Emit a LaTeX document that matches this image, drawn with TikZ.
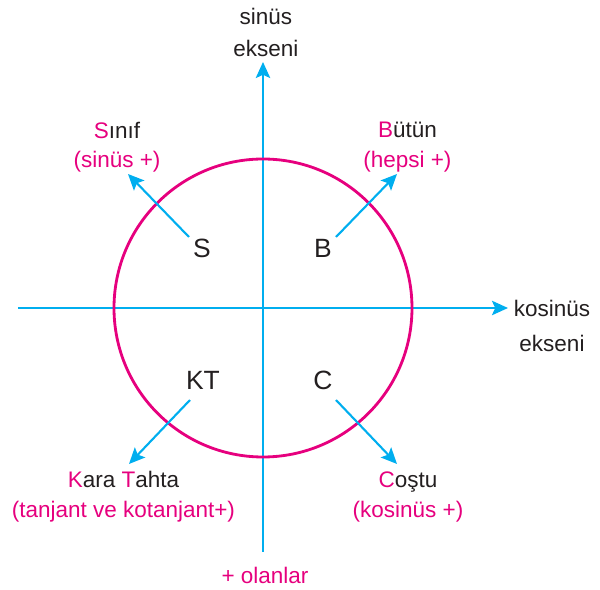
\documentclass[tikz,border=0pt]{standalone}
\usepackage{fontspec}
\setmainfont{Liberation Sans}
\usetikzlibrary{arrows.meta}
\definecolor{ink}{HTML}{231F20}
\definecolor{pink}{HTML}{E6007E}
\definecolor{sky}{HTML}{00AEEF}

\begin{document}
\begin{tikzpicture}[text=ink,>={Stealth[length=0.4cm,width=0.36cm,inset=0.08cm]},
  lbl/.style={font=\fontsize{16}{21.3}\selectfont,align=center,inner sep=0pt},
  letter/.style={font=\fontsize{18.8}{22}\selectfont,inner sep=0pt},
  pointer/.style={->,sky,line width=1.5pt}]
  \useasboundingbox (-6.575,-7.05) rectangle (8.425,7.7);
  % axes and unit circle
  \coordinate (O) at (0,0);
  \coordinate (xl) at (-6.125,0);
  \coordinate (xr) at (6.125,0);
  \coordinate (yb) at (0,-6.1);
  \coordinate (yt) at (0,6.15);
  \draw[pointer] (xl) -- (xr);
  \draw[pointer] (yb) -- (yt);
  \draw[pink,line width=2pt] (O) circle (3.725);
  \node[lbl] (ysin) at (0.07,6.9) {sinüs\\[1.5pt]ekseni};
  \node[lbl] (xcos) at (7.225,-0.45) {kosinüs\\[4pt]ekseni};
  \node[lbl,text=pink] (plus) at (0.05,-6.68) {+ olanlar};
  % quadrant letters
  \node[letter] (S) at (-1.525,1.5) {S};
  \node[letter] (B) at (1.5,1.5) {B};
  \node[letter] (KT) at (-1.5,-1.8) {KT};
  \node[letter] (C) at (1.5,-1.8) {C};
  % quadrant words
  \node[lbl] (sinif) at (-3.65,4.02) {\textcolor{pink}{S}ınıf\\\textcolor{pink}{(sinüs +)}};
  \node[lbl] (butun) at (3.61,4.03) {\textcolor{pink}{B}ütün\\\textcolor{pink}{(hepsi +)}};
  \node[lbl] (kara) at (-3.49,-4.72) {\textcolor{pink}{K}ara \textcolor{pink}{T}ahta\\\textcolor{pink}{(tanjant ve kotanjant+)}};
  \node[lbl] (costu) at (3.625,-4.72) {\textcolor{pink}{C}oştu\\\textcolor{pink}{(kosinüs +)}};
  % pointers
  \coordinate (s0) at (-1.85,1.775);
  \coordinate (s1) at (-3.375,3.35);
  \coordinate (b0) at (1.825,1.775);
  \coordinate (b1) at (3.35,3.35);
  \coordinate (k0) at (-1.825,-2.3);
  \coordinate (k1) at (-3.35,-3.9);
  \coordinate (c0) at (1.825,-2.3);
  \coordinate (c1) at (3.35,-3.9);
  \draw[pointer] (s0) -- (s1);
  \draw[pointer] (b0) -- (b1);
  \draw[pointer] (k0) -- (k1);
  \draw[pointer] (c0) -- (c1);
\end{tikzpicture}
\end{document}
